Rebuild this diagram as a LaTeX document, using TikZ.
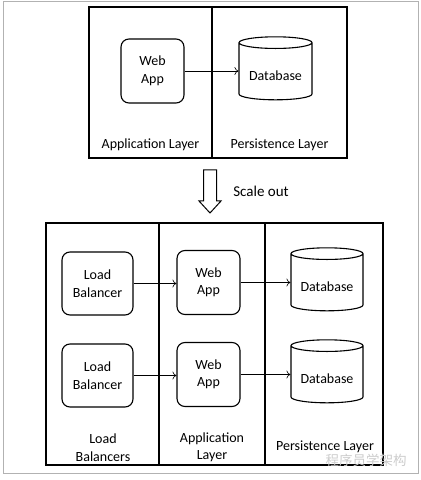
\documentclass[tikz,border=0pt]{standalone}
\usepackage{fontspec}
\setmainfont{Carlito}
\newfontfamily\cjk{Noto Sans CJK SC}
\usetikzlibrary{shapes.geometric,arrows.meta}
\tikzset{
  comp/.style={draw,line width=1.1pt,rounded corners=8pt,fill=white,align=center,minimum width=63pt,minimum height=64pt,inner sep=0pt},
  dbase/.style={draw,line width=1.1pt,cylinder,shape border rotate=90,aspect=0.22,minimum width=73pt,minimum height=63pt,inner sep=0pt,text height=19pt,text depth=0pt,fill=white},
  layer/.style={draw,line width=1.1pt},
  lbl/.style={align=center},
  link/.style={-{To[length=4pt,width=8pt]},line width=0.6pt}
}

\begin{document}
\begin{tikzpicture}[x=1pt,y=1pt,font=\fontsize{14}{17.5}\selectfont]
\useasboundingbox(0,0)rectangle(421,480);
\draw[gray!60,line width=1pt](3,6)rectangle(418,478);
% single web app
\draw[layer](89,322)rectangle(347,473);
\draw[layer](212,322)--(212,473);
\node[comp](web)at(152.5,409){Web\\App};
\node[dbase](db)at(275.5,408.5){Database};
\draw[link](web.east)--(web.east-|db.west);
\node[lbl](applbl)at(150.5,335){Application Layer};
\node[lbl](perlbl)at(279.5,335){Persistence Layer};
% scale out
\draw[line width=1pt](203.5,310)--(216.5,310)--(216.5,279)--(221,279)--(210,267)--(199,279)--(203.5,279)--cycle;
\node[lbl,font=\fontsize{15}{18}\selectfont](scale)at(261,289){Scale out};
% scaled out
\draw[layer](46,15)rectangle(383,257);
\draw[layer](159,15)--(159,257);
\draw[layer](265,15)--(265,257);
\foreach \i/\y in {1/196.5,2/104.5}{
  \node[comp,minimum width=71pt,minimum height=63pt](lb\i)at(97.5,\y){Load\\Balancer};
  \node[comp](web\i)at(208.5,\y+1){Web\\App};
  \node[dbase,minimum width=72pt](db\i)at(327,\y+1){Database};
  \draw[link](lb\i.east)--(lb\i.east-|web\i.west);
  \draw[link](web\i.east)--(web\i.east-|db\i.west);
}
\node[lbl](lblbl)at(103,32.5){Load\\Balancers};
\node[lbl](applbl2)at(212,32.5){Application\\Layer};
\node[lbl](perlbl2)at(325,33){Persistence Layer};
\node[text=gray!40,font=\cjk\fontsize{13.5}{14}\selectfont](wm)at(366,20){程序员学架构};
\end{tikzpicture}
\end{document}
